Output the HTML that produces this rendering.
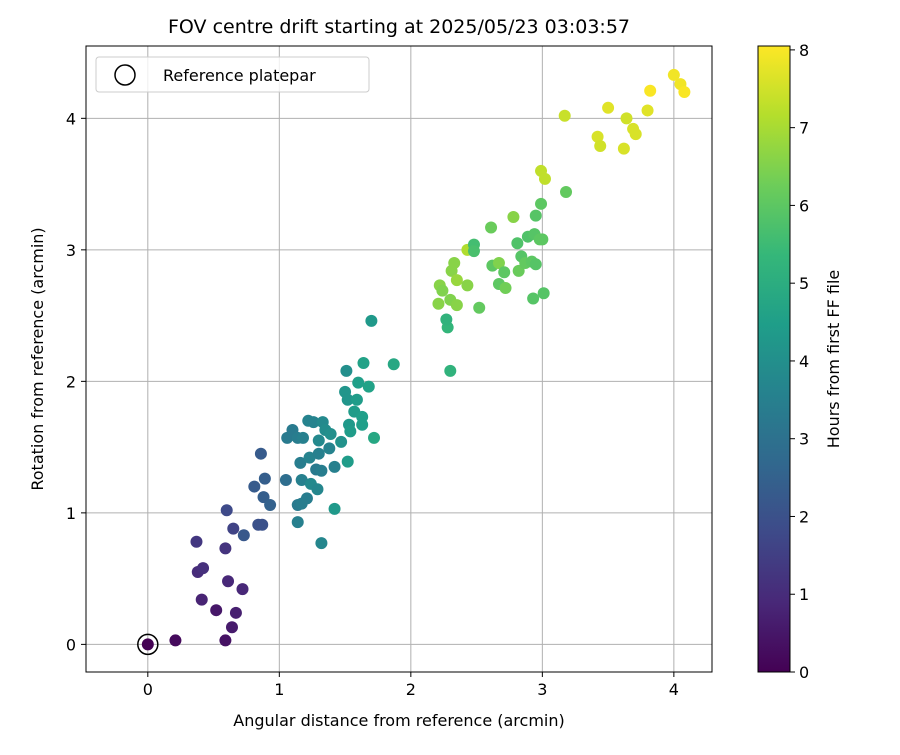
<!DOCTYPE html>
<html><head><meta charset="utf-8"><style>
body{margin:0;background:#fff;font-family:"Liberation Sans","DejaVu Sans",sans-serif}
svg text{font-family:"DejaVu Sans","Liberation Sans",sans-serif;fill:#000}
</style></head><body>
<svg id="c" width="900" height="750" xmlns="http://www.w3.org/2000/svg"></svg>
<script>
const xs=[0,0.21,0.59,0.52,0.64,0.67,0.41,0.72,0.61,0.38,0.42,0.59,0.37,0.65,0.60,0.73,0.84,0.87,0.81,0.88,0.93,0.89,0.86,1.05,1.06,1.10,1.14,1.18,1.22,1.26,1.14,1.14,1.17,1.17,1.21,1.24,1.29,1.16,1.23,1.28,1.30,1.32,1.30,1.33,1.35,1.39,1.38,1.32,1.42,1.42,1.47,1.52,1.50,1.51,1.52,1.53,1.54,1.57,1.60,1.59,1.63,1.63,1.64,1.68,1.70,1.72,1.87,
2.30,2.28,2.27,2.21,2.30,2.35,2.22,2.24,2.31,2.33,2.35,2.43,2.43,2.48,2.48,2.52,2.61,2.62,2.67,2.67,2.71,2.72,2.78,2.81,2.82,2.84,2.87,2.89,2.92,2.94,2.93,2.95,2.95,2.99,3.00,3.01,2.98,3.18,
2.99,3.02,3.17,3.42,3.44,3.50,3.62,3.64,3.69,3.71,3.80,3.82,4.00,4.05,4.08];
const ys=[0,0.03,0.03,0.26,0.13,0.24,0.34,0.42,0.48,0.55,0.58,0.73,0.78,0.88,1.02,0.83,0.91,0.91,1.20,1.12,1.06,1.26,1.45,1.25,1.57,1.63,1.57,1.57,1.70,1.69,1.06,0.93,1.07,1.25,1.11,1.22,1.18,1.38,1.42,1.33,1.55,1.32,1.45,1.69,1.63,1.60,1.49,0.77,1.35,1.03,1.54,1.39,1.92,2.08,1.86,1.67,1.62,1.77,1.99,1.86,1.73,1.67,2.14,1.96,2.46,1.57,2.13,
2.08,2.41,2.47,2.59,2.62,2.58,2.73,2.69,2.84,2.90,2.77,2.73,3.00,3.04,2.99,2.56,3.17,2.88,2.90,2.74,2.83,2.71,3.25,3.05,2.84,2.95,2.90,3.10,2.91,3.12,2.63,2.89,3.26,3.35,3.08,2.67,3.08,3.44,
3.60,3.54,4.02,3.86,3.79,4.08,3.77,4.00,3.92,3.88,4.06,4.21,4.33,4.26,4.20];
const hours=[0,0.2,0.4,0.5,0.6,0.7,0.8,0.9,0.9,1.0,1.1,1.2,1.3,1.6,1.8,2.2,2.0,2.0,2.3,2.4,2.5,2.4,2.3,2.9,3.3,3.3,3.4,3.5,3.6,3.6,3.3,3.5,3.4,3.5,3.4,3.8,3.7,3.4,3.6,3.3,3.8,3.4,3.5,3.8,3.9,4.0,3.6,3.7,3.5,4.3,4.1,4.4,4.2,4.0,4.2,4.3,4.4,4.4,4.5,4.4,4.5,4.5,4.6,4.6,4.3,4.8,4.8,
5.2,5.3,5.2,6.6,6.5,6.6,6.6,6.5,6.6,6.6,6.8,6.6,7.1,5.6,5.7,6.1,6.2,6.0,6.5,6.0,6.0,6.3,6.6,5.8,6.2,5.9,6.1,5.8,6.0,5.9,5.9,5.9,5.9,6.0,6.0,5.9,6.0,6.1,
7.3,7.3,7.4,7.6,7.5,7.7,7.6,7.5,7.6,7.6,7.7,8.0,7.9,7.9,8.0];
const xTicks=[0,1,2,3,4], yTicks=[0,1,2,3,4], cTicks=[0,1,2,3,4,5,6,7,8];
const L=86,R=712,T=46,B=672, xmin=-0.47,xmax=4.29,ymin=-0.21,ymax=4.55, hmax=8.05;
const X=v=>L+(v-xmin)/(xmax-xmin)*(R-L), Y=v=>B-(v-ymin)/(ymax-ymin)*(B-T);
const CT=46,CB=672,CL=758,CR=790, CY=h=>CB-h/hmax*(CB-CT);
const vir=[[68,1,84],[72,40,120],[62,74,137],[49,104,142],[38,130,142],[31,158,137],[53,183,121],[109,205,89],[180,222,44],[253,231,37]];
function col(h){let t=Math.max(0,Math.min(1,h/hmax))*9,i=Math.min(8,Math.floor(t)),f=t-i,a=vir[i],b=vir[i+1];return `rgb(${a.map((v,k)=>Math.round(v+(b[k]-v)*f)).join(',')})`;}
const s=document.getElementById('c'),NS='http://www.w3.org/2000/svg';
function el(t,a,p){const e=document.createElementNS(NS,t);for(const k in a)e.setAttribute(k,a[k]);(p||s).appendChild(e);return e;}
function tx(x,y,str,a){const e=el('text',Object.assign({x,y,'font-size':16},a||{}));e.textContent=str;return e;}
xTicks.forEach(v=>{const g=el('line',{x1:X(v),x2:X(v),y1:T,y2:B,stroke:'#b0b0b0','stroke-width':1});


el('line',{x1:X(v),x2:X(v),y1:B,y2:B+5,stroke:'#000'});
const t=tx(X(v),B+23,String(v),{'text-anchor':'middle'});

});
yTicks.forEach(v=>{const g=el('line',{x1:L,x2:R,y1:Y(v),y2:Y(v),stroke:'#b0b0b0','stroke-width':1});


el('line',{x1:L-5,x2:L,y1:Y(v),y2:Y(v),stroke:'#000'});
const t=tx(L-10,Y(v)+6,String(v),{'text-anchor':'end'});

});
xs.forEach((v,i)=>{const c=el('circle',{cx:X(v),cy:Y(ys[i]),r:6,fill:col(hours[i])});

});
const ref=el('circle',{cx:X(0),cy:Y(0),r:10,fill:'none',stroke:'#000','stroke-width':1.5});


const fr=el('rect',{x:L,y:T,width:R-L,height:B-T,fill:'none',stroke:'#000','stroke-width':1});


const lg=el('g',{});


el('rect',{x:96,y:57,width:273,height:35,rx:3,fill:'#fff',stroke:'#ccc','fill-opacity':0.8},lg);
el('circle',{cx:125,cy:75,r:10,fill:'none',stroke:'#000','stroke-width':1.5},lg);
const lt=tx(163,81,'Reference platepar',{});lg.appendChild(lt);
const ti=tx(399,33,'FOV centre drift starting at 2025/05/23 03:03:57',{'text-anchor':'middle','font-size':19});


const xt=tx(399,726,'Angular distance from reference (arcmin)',{'text-anchor':'middle'});


const yt=tx(0,0,'Rotation from reference (arcmin)',{'text-anchor':'middle',transform:`translate(43,359) rotate(-90)`});


const df=el('defs',{}),gr=el('linearGradient',{id:'vg',x1:0,y1:1,x2:0,y2:0},df);
vir.forEach((c,i)=>el('stop',{offset:i/9,'stop-color':`rgb(${c})`},gr));
const cb=el('rect',{x:CL,y:CT,width:CR-CL,height:CB-CT,fill:'url(#vg)',stroke:'#000'});


cTicks.forEach(v=>{el('line',{x1:CR,x2:CR+5,y1:CY(v),y2:CY(v),stroke:'#000'});
const t=tx(CR+9,CY(v)+6,String(v),{});

});
const ct=tx(0,0,'Hours from first FF file',{'text-anchor':'middle',transform:`translate(839,359) rotate(-90)`});


</script>
</body></html>
